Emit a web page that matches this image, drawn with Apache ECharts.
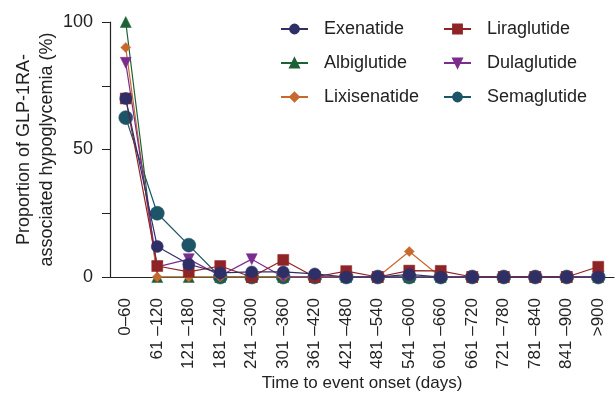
<!DOCTYPE html>
<html>
<head>
<meta charset="utf-8">
<script src="https://cdn.jsdelivr.net/npm/echarts@6/dist/echarts.min.js"></script>
<style>
	html, body { margin: 0; padding: 0; background: #fff; }
	#chart { width: 616px; height: 397px; }
</style>
</head>
<body>
<div id="chart"></div>
<script>
	// 横轴分类
	const categories = ['0–60', '61 –120', '121 –180', '181 –240', '241 –300', '301 –360', '361 –420', '421 –480',
		'481 –540', '541 –600', '601 –660', '661 –720', '721 –780', '781 –840', '841 –900', '>900']
	const yTicks = [0, 50, 100]

	const exenatide    = [70, 12, 5, 1.6, 2, 2, 1.2, 0, 0, 1, 0, 0, 0, 0, 0, 0]
	const liraglutide  = [70, 4.3, 2, 4.3, 0, 6.7, 0, 2.3, 0, 2.5, 2.4, 0, 0, 0, 0, 4]
	const albiglutide  = [100, 0, 0, 0, 0, 0, 0, 0, 0, 0, 0, 0, 0, 0, 0, 0]
	const dulaglutide  = [84, 4, 7, 0.5, 7, 0, 0, 0, 0, 0, 0, 0, 0, 0, 0, 0]
	const lixisenatide = [90, 0, 0, 0, 0, 0, 0, 0, 0, 10, 0, 0, 0, 0, 0, 0]
	const semaglutide  = [62.5, 25, 12.5, 0, 0, 0, 0, 0, 0, 0, 0, 0, 0, 0, 0, 0]

	const font = 'Liberation Sans, Arial, sans-serif'

	function makeSeries(name, data, color, symbol, size, z, rotate) {
		return {
			name: name,
			type: 'line',
			data: data,
			symbol: symbol,
			symbolSize: size,
			symbolRotate: rotate || 0,
			clip: false,
			z: z,
			lineStyle: { color: color, width: 1.2 },
			itemStyle: { color: color, borderColor: color, borderWidth: 0.5 },
			emphasis: { disabled: true }
		}
	}

	const legendText = { fontSize: 18, color: '#222', fontFamily: font, padding: [0, 0, 0, 11] }

	const chart = echarts.init(document.getElementById('chart'))
	const option = {
		animation: false,
		textStyle: { fontFamily: font },
		grid: { left: 110, right: 2, top: 22, bottom: 120, outerBoundsMode: 'none' },
		legend: [
			{
				orient: 'vertical',
				left: 280, top: 20, padding: 0,
				itemWidth: 27, itemHeight: 11, itemGap: 16,
				textStyle: legendText,
				data: ['Exenatide', 'Albiglutide', 'Lixisenatide']
			},
			{
				orient: 'vertical',
				left: 443, top: 20, padding: 0,
				itemWidth: 27, itemHeight: 11, itemGap: 16,
				textStyle: legendText,
				data: ['Liraglutide', 'Dulaglutide', 'Semaglutide']
			}
		],
		xAxis: {
			type: 'category',
			data: categories,
			boundaryGap: true,
			name: 'Time to event onset (days)',
			nameLocation: 'middle',
			nameGap: 98,
			nameMoveOverlap: false,
			nameTextStyle: { fontSize: 17, color: '#222', fontFamily: font },
			axisLine: { lineStyle: { color: '#222', width: 1.2 } },
			axisTick: { alignWithLabel: true, length: 8, lineStyle: { color: '#222' } },
			axisLabel: { rotate: 90, interval: 0, fontSize: 17, color: '#222', margin: 21, fontFamily: font }
		},
		yAxis: {
			type: 'value',
			min: 0, max: 100, interval: 25,
			name: 'Proportion of GLP-1RA-\nassociated hypoglycemia (%)',
			nameLocation: 'middle',
			nameGap: 51,
			nameMoveOverlap: false,
			nameTextStyle: { fontSize: 18, color: '#222', lineHeight: 23, fontFamily: font },
			axisLine: { show: true, lineStyle: { color: '#222', width: 1.2 } },
			axisTick: { show: true, length: 8, lineStyle: { color: '#222' } },
			splitLine: { show: false },
			axisLabel: {
				fontSize: 18, color: '#222', margin: 17, fontFamily: font,
				formatter: function (v) { return yTicks.indexOf(v) > -1 ? String(v) : '' }
			}
		},
		series: [
			makeSeries('Semaglutide', semaglutide, '#1d5467', 'circle', 14, 2),
			makeSeries('Albiglutide', albiglutide, '#1f6136', 'triangle', 11, 3),
			makeSeries('Lixisenatide', lixisenatide, '#c7692f', 'diamond', 10, 4),
			makeSeries('Dulaglutide', dulaglutide, '#7b2d8e', 'triangle', 11, 5, 180),
			makeSeries('Liraglutide', liraglutide, '#8f2426', 'rect', 11, 6),
			makeSeries('Exenatide', exenatide, '#2f2f68', 'circle', 12, 7)
		]
	}
	chart.setOption(option)
</script>
</body>
</html>
